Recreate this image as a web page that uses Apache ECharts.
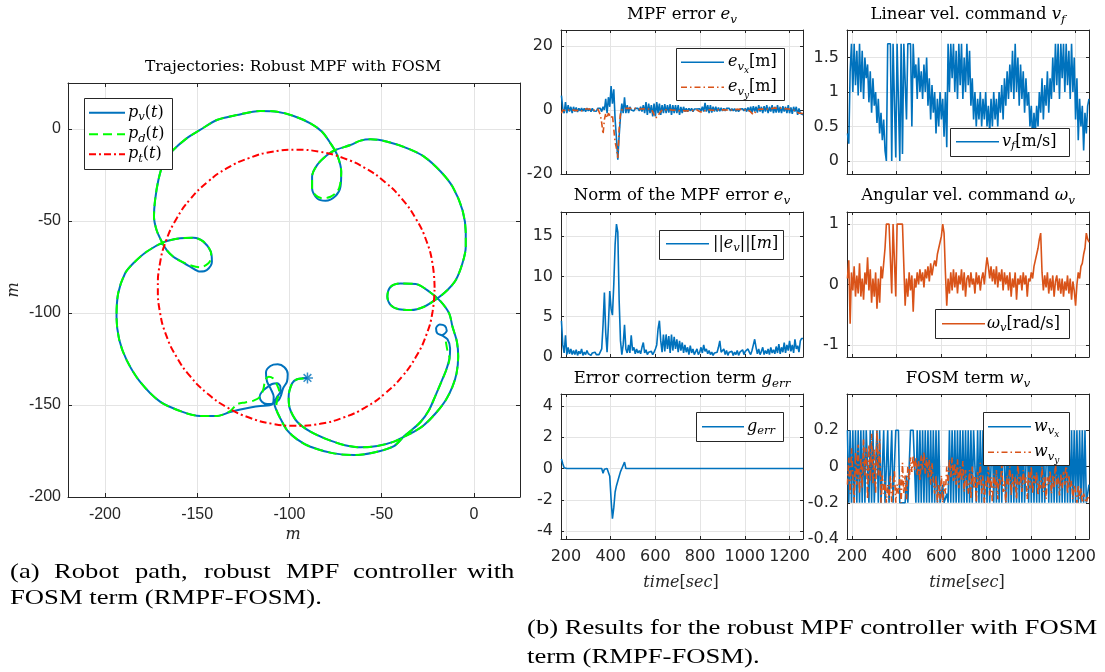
<!DOCTYPE html>
<html>
<head>
<meta charset="utf-8">
<script src="https://cdn.jsdelivr.net/npm/echarts@6/dist/echarts.min.js"></script>
<style>
  html, body { margin: 0; padding: 0; background: #fff; }
  #main { width: 1105px; height: 672px; }
</style>
</head>
<body>
<div id="main"></div>
<script>
// ---------------- Trajectories (metres) ----------------
// robot path p_v(t)
const PV_PATH = [
  [-17.0,-112.0], [-14.7,-109.6], [-15.8,-106.9], [-18.5,-106.2], [-20.5,-108.3], [-19.8,-111.1], [-17.0,-112.3], [-14.3,-114.3],
  [-12.9,-119.2], [-13.2,-124.6], [-15.0,-131.0], [-17.6,-137.3], [-20.7,-144.6], [-24.3,-152.7], [-28.8,-159.1], [-34.2,-164.0], [-37.9,-167.0],
  [-43.3,-172.3], [-54.2,-175.8], [-65.1,-177.2], [-75.9,-176.3], [-88.6,-172.7], [-95.8,-168.7], [-101.3,-163.6], [-104.9,-157.3], [-107.1,-152.7],
  [-108.2,-149.1], [-106.7,-145.5], [-104.9,-142.8], [-104.9,-140.0], [-106.7,-138.2], [-109.4,-138.6], [-112.1,-140.4], [-114.9,-142.8],
  [-116.1,-145.5], [-114.9,-148.2], [-112.1,-149.5], [-108.5,-149.1], [-105.8,-147.3], [-104.5,-144.6], [-103.4,-140.9], [-101.3,-137.3],
  [-100.9,-133.2], [-102.7,-129.5], [-106.3,-127.9], [-110.3,-128.8], [-112.7,-132.4], [-112.1,-137.3], [-110.0,-141.5], [-108.5,-145.5],
  [-108.9,-149.1], [-110.7,-150.2], [-115.8,-150.5], [-121.2,-151.3], [-126.6,-152.4], [-132.1,-153.8],
  [-139.3,-156.0], [-148.4,-156.0], [-158.3,-153.6], [-170.1,-148.2], [-181.0,-137.3], [-188.2,-125.6], [-192.2,-114.7],
  [-193.7,-102.0], [-192.8,-89.3], [-189.1,-78.5], [-184.6,-73.0], [-177.4,-66.7], [-168.3,-61.6], [-159.2,-59.4], [-152.0,-59.1],
  [-146.6,-61.2], [-142.6,-66.7], [-142.0,-72.1], [-144.7,-76.6], [-148.4,-77.5], [-153.8,-74.8], [-159.2,-71.7], [-162.9,-69.4],
  [-166.5,-65.8], [-169.2,-61.2], [-172.0,-54.9], [-173.4,-47.6], [-172.8,-38.6], [-171.0,-27.7], [-168.3,-18.7], [-163.8,-12.3],
  [-155.7,-5.1], [-148.4,-0.5], [-139.3,4.9], [-128.5,7.6], [-115.8,9.8], [-106.7,9.4], [-97.7,7.1], [-88.6,3.1], [-82.3,-1.5],
  [-77.7,-7.8], [-74.1,-14.1], [-71.9,-23.2], [-72.3,-31.3], [-75.0,-36.4], [-80.4,-39.0], [-85.0,-37.7], [-87.7,-32.3], [-87.7,-25.9],
  [-85.0,-19.6], [-79.5,-14.1], [-75.0,-11.4], [-66.9,-8.7], [-61.4,-6.3], [-56.0,-5.6], [-46.9,-6.9], [-36.0,-10.5], [-27.0,-15.0],
  [-17.9,-23.2], [-11.6,-31.3], [-6.2,-44.0], [-4.4,-56.7], [-4.4,-64.0], [-6.2,-73.0], [-9.8,-82.1], [-14.3,-87.5], [-19.7,-92.0],
  [-27.0,-96.6], [-34.2,-98.4], [-40.6,-98.0], [-45.1,-95.7], [-46.9,-91.1], [-45.1,-85.7], [-39.7,-83.9], [-31.5,-84.2], [-23.4,-89.0],
  [-17.9,-93.8], [-13.4,-100.2], [-11.6,-107.4], [-9.2,-115.6], [-8.5,-123.7], [-9.4,-132.8], [-11.6,-140.0], [-15.2,-147.3],
  [-20.7,-154.5], [-27.0,-160.9], [-32.4,-164.5], [-37.9,-167.2], [-43.3,-169.9], [-52.3,-172.3], [-61.4,-173.0], [-70.5,-171.7],
  [-79.5,-168.7], [-88.6,-164.5], [-95.8,-159.1], [-99.8,-151.8], [-100.4,-145.5], [-98.5,-138.2], [-95.8,-136.0], [-90.2,-135.3]
];

// desired path p_d(t)
const PD_PATH = [
  [-15.2,-115.6], [-14.3,-120.6], [-13.2,-124.6], [-15.0,-131.0], [-17.6,-137.3], [-20.7,-144.6], [-24.3,-152.7], [-28.8,-159.1],
  [-34.2,-164.0], [-37.9,-167.0], [-43.3,-172.3], [-54.2,-175.8], [-65.1,-177.2], [-75.9,-176.3], [-88.6,-172.7], [-95.8,-168.7],
  [-101.3,-163.6], [-104.9,-157.3], [-107.1,-151.8], [-106.7,-147.3], [-105.4,-143.3], [-106.7,-139.1], [-108.9,-135.5], [-111.2,-134.6],
  [-113.1,-136.4], [-114.0,-140.9], [-115.8,-145.5], [-119.4,-147.6], [-123.9,-148.6], [-128.4,-149.6], [-132.1,-153.3],
  [-139.3,-156.0], [-148.4,-156.0], [-158.3,-153.6], [-170.1,-148.2], [-181.0,-137.3], [-188.2,-125.6], [-192.2,-114.7],
  [-193.7,-102.0], [-192.8,-89.3], [-189.1,-78.5], [-184.6,-73.0], [-177.4,-66.7], [-168.3,-61.6], [-159.2,-59.4], [-152.0,-59.1],
  [-146.6,-61.2], [-142.6,-66.7], [-142.4,-69.4], [-143.9,-73.0], [-148.4,-75.2], [-152.9,-74.3], [-159.2,-71.7], [-162.9,-69.4],
  [-166.5,-65.8], [-169.2,-61.2], [-172.0,-54.9], [-173.4,-47.6], [-172.8,-38.6], [-171.0,-27.7], [-168.3,-18.7], [-163.8,-12.3],
  [-155.7,-5.1], [-148.4,-0.5], [-139.3,4.9], [-128.5,7.6], [-115.8,9.8], [-106.7,9.4], [-97.7,7.1], [-88.6,3.1], [-82.3,-1.5],
  [-77.7,-7.8], [-74.1,-14.1], [-71.9,-23.2], [-72.6,-30.5], [-74.1,-34.1], [-77.7,-36.8], [-82.3,-37.7], [-85.9,-35.9], [-87.7,-32.3],
  [-87.7,-25.9], [-85.0,-19.6], [-79.5,-14.1], [-75.0,-11.4], [-66.9,-8.7], [-61.4,-6.3], [-56.0,-5.6], [-46.9,-6.9], [-36.0,-10.5],
  [-27.0,-15.0], [-17.9,-23.2], [-11.6,-31.3], [-6.2,-44.0], [-4.4,-56.7], [-4.4,-64.0], [-6.2,-73.0], [-9.8,-82.1], [-14.3,-87.5],
  [-19.7,-92.0], [-27.0,-96.6], [-34.2,-98.4], [-40.6,-98.0], [-45.1,-95.7], [-46.9,-91.1], [-45.1,-85.7], [-39.7,-83.9], [-31.5,-84.2],
  [-23.4,-89.0], [-17.9,-93.8], [-13.4,-100.2], [-11.6,-107.4], [-9.2,-115.6], [-8.5,-123.7], [-9.4,-132.8], [-11.6,-140.0],
  [-15.2,-147.3], [-20.7,-154.5], [-27.0,-160.9], [-32.4,-164.5], [-37.9,-167.2], [-43.3,-169.9], [-52.3,-172.3], [-61.4,-173.0],
  [-70.5,-171.7], [-79.5,-168.7], [-88.6,-164.5], [-95.8,-159.1], [-99.8,-151.8], [-100.4,-145.5], [-98.5,-138.2], [-95.8,-136.0], [-91.0,-135.5]
];

// target path p_t(t)
const PT_PATH = [
  [-21.3,-86.3], [-22.4,-73.3], [-25.8,-60.6], [-31.4,-48.8], [-38.9,-38.1], [-48.1,-28.9], [-58.8,-21.3], [-70.7,-15.8], [-83.3,-12.4],
  [-96.3,-11.3], [-109.3,-12.4], [-121.9,-15.8], [-133.8,-21.3], [-144.5,-28.9], [-153.7,-38.1], [-161.2,-48.8], [-166.8,-60.6], [-170.2,-73.3],
  [-171.3,-86.3], [-170.2,-99.3], [-166.8,-112.0], [-161.2,-123.8], [-153.7,-134.5], [-144.5,-143.7], [-133.8,-151.3], [-121.9,-156.8], [-109.3,-160.2],
  [-96.3,-161.3], [-83.3,-160.2], [-70.7,-156.8], [-58.8,-151.3], [-48.1,-143.7], [-38.9,-134.5], [-31.4,-123.8], [-25.8,-112.0], [-22.4,-99.3],
  [-21.3,-86.3]
];

// ---------------- Time histories, one sample every 6 s from t = 180 s ----------------
const T_START = 180, T_STEP = 6;

const EV_X = [
  4.5, 0.5, -1, 2.5, -1, 1.5, -0.5, 1, -1, 1,
  -0.5, 0.8, -0.6, 0.5, -0.3, 0.6, -0.4, 0.5, -0.5, 0.6,
  -0.3, 0.4, -0.5, 0.5, -0.3, 0.3, -0.4, 0.5, 0, 0.5,
  -0.5, 1, 0, 3.5, -1, 4, 1, 7.5, 2, 6.5,
  -3, -9, -15.5, -8, -2, 2, -1, 4, -1, 1.5,
  -1, 1, 0, 0.5, -0.3, 0.5, 0, 0.5, -0.3, 1,
  -0.5, 1.5, -1, 2.5, -1.5, 2, -1, 1.5, -2, 2,
  -2, 2.5, -1, 2, -1.5, 1.5, -1, 1.8, -1, 1.5,
  -0.8, 1.8, -1.5, 1.5, -1, 1.5, -1, 1.5, -1.5, 1,
  -1, 1, -0.5, 0.5, -0.5, 0.5, -0.3, 0.5, -0.5, 0.3,
  -0.3, 0.3, -0.3, 0.4, -0.4, 1, -0.5, 2.2, -0.5, 1.5,
  -1, 1.5, -0.8, 1, -0.5, 1, -0.5, 0.8, -0.4, 0.7,
  -0.3, 0.5, -0.3, 0.5, 0.2, 0.5, -0.3, 0.4, -0.3, 0.4,
  -0.4, 0.3, -0.5, 0.3, -0.3, 0.4, -0.3, 0.5, -0.5, 0.8,
  -0.5, 1, -0.8, 1.2, -0.5, 1, -0.8, 1.5, -0.5, 1,
  -1, 1.2, -0.5, 1.5, -1, 1, -0.5, 1.5, -1, 1,
  -0.8, 1.5, -0.8, 1, -1, 1.2, -0.5, 1, -1, 1.5,
  -1, 0.8, -1.2, 1, -0.5, 1, -1.5, 0.5, -1, -0.5,
  -1.5
];

const EV_Y = [
  -1, 0, 0.5, -0.3, 0.3, 0, 0.4, -0.2, 0.3, 0,
  0.3, -0.2, 0.4, 0, 0.3, -0.3, 0.2, 0.3, -0.2, 0.3,
  0, 0.3, 0.2, -0.2, 0.3, 0, 0.2, 0.4, 0, -1.5,
  -4, -7.5, -3, -1, -2.5, -1, -0.5, -2.5, -1.5, -6,
  -10, -12, -15, -6, -1, 0, 0.3, 0.5, 0.4, 0.5,
  0.3, 0.5, 0.2, 0.4, 0.3, 0.5, 0.2, 0.3, 0.2, 0.3,
  0.2, 0.4, 0.1, 0.3, 0.2, 0.3, 0, 0.2, -0.5, -1.5,
  -2.5, -3, -2, -1, -0.5, 0, 0.2, 0.1, 0.3, 0,
  0.3, 0.1, 0.2, -0.1, 0.3, 0, 0.2, -0.2, 0.1, -0.3,
  0, -0.2, 0.1, -0.3, 0, -0.2, 0.1, -0.2, 0.1, -0.1,
  -0.2, 0, -0.3, -0.5, -1, -0.8, -0.5, -0.2, 0, 0.1,
  0.1, 0, 0.2, -0.1, 0.2, 0, 0.3, 0.1, 0.2, 0,
  0.2, 0.1, 0.3, 0, 0.2, 0.1, 0.2, 0, 0.2, 0.1,
  0, 0.2, 0.1, 0.2, 0, 0.1, 0.2, 0, 0.2, 0.1,
  -0.2, -0.6, -1.2, -1.5, -1, -0.4, 0, 0.2, 0.4, 0.3,
  0.5, 0.2, 0.4, 0.3, 0.5, 0.2, 0.4, 0.5, 0.3, 0.6,
  0.4, 0.5, 0.3, 0.6, 0.2, 0.5, 0.3, 0.4, 0.2, 0.3,
  0, 0.2, -0.2, 0, -0.3, -0.5, -0.8, -1, -1.2, -1,
  -1.2
];

const EV_NORM = [
  4.5, 1.5, 0.5, 2.7, 0.3, 1.2, 0.4, 1, 0.3, 0.8,
  0.3, 0.9, 0.2, 0.7, 0.4, 1, 0.2, 0.6, 0.3, 0.8,
  0.4, 0.6, 0.2, 0.5, 0.4, 0.6, 0.3, 0.5, 0.3, 0.5,
  1, 4, 8, 3, 0.6, 4, 8.2, 6, 5.2, 9,
  14, 16.5, 15.5, 7, 2, 0.3, 1.5, 4, 1, 0.5,
  1.5, 0.5, 2.7, 0.8, 1.2, 0.4, 1, 0.5, 0.8, 0.4,
  1.2, 1.8, 0.5, 0.9, 0.3, 0.6, 0.4, 0.7, 0.3, 0.6,
  1, 1.5, 3.5, 4.5, 2, 0.6, 2.8, 0.7, 2.8, 1,
  2.6, 0.5, 2.8, 0.8, 2.5, 1, 2.2, 0.6, 2, 0.8,
  1.8, 0.5, 1.5, 0.6, 1.2, 0.3, 1.4, 0.5, 1, 0.3,
  0.4, 1, 0.3, 0.6, 1.2, 0.5, 1.5, 0.7, 1, 0.4,
  0.8, 0.3, 0.6, 0.2, 0.5, 0.3, 0.6, 1.2, 2, 0.6,
  0.4, 1, 0.3, 0.8, 0.2, 0.6, 0.4, 0.7, 0.2, 0.6,
  0.3, 0.8, 0.2, 0.6, 0.4, 0.9, 0.3, 0.7, 0.5, 1,
  0.6, 0.3, 0.8, 1.5, 2.2, 1.2, 0.4, 1, 0.3, 0.7,
  1.2, 0.3, 0.8, 0.4, 1, 0.3, 1.2, 0.5, 0.9, 0.4,
  1.3, 0.5, 1.6, 0.4, 1.2, 0.6, 1.8, 0.5, 1.5, 0.8,
  2, 0.7, 1.5, 0.5, 2.2, 1, 1.4, 0.6, 2, 2.3,
  2.3
];

const G_ERR = [
  0.6, 0.3, 0.05, 0, 0, 0, 0, 0, 0, 0,
  0, 0, 0, 0, 0, 0, 0, 0, 0, 0,
  0, 0, 0, 0, 0, 0, 0, 0, 0, 0,
  0, -0.3, -0.05, 0, 0, 0, -0.5, -2, -3.2, -2.5,
  -1.5, -1.1, -0.8, -0.5, -0.2, 0, 0.1, 0.4, 0, 0,
  0, 0, 0, 0, 0, 0, 0, 0, 0, 0,
  0, 0, 0, 0, 0, 0, 0, 0, 0, 0,
  0, 0, 0, 0, 0, 0, 0, 0, 0, 0,
  0, 0.05, 0, 0.05, 0, 0, 0, 0, 0, 0,
  0, 0, 0, 0, 0, 0, 0, 0, 0, 0,
  0, 0, 0, 0, 0, 0, 0, 0, 0, 0,
  0, 0, 0, 0, 0, 0, 0, 0, 0, 0,
  0, 0, 0, 0, 0, 0, 0, 0, 0, 0,
  0, 0, 0, 0, 0, 0, 0, 0, 0, 0,
  0, 0, 0, 0, 0, 0, 0, 0, 0, 0,
  0, 0, 0, 0, 0, 0, 0, 0, 0, 0,
  0, 0, 0, 0, 0, 0, 0, 0, 0, 0,
  0, 0, 0, 0, 0, 0, 0, 0, 0, 0,
  0
];

const V_F = [
  0.4, 0.25, 1.3, 1.7, 1.0, 1.7, 1.1, 1.6, 0.95, 1.7,
  1.0, 1.6, 0.9, 1.5, 1.2, 1.4, 0.85, 1.3, 0.7, 1.2,
  0.8, 1.0, 0.55, 0.9, 0.4, 0.7, 0.3, 0.6, 0.15, 0,
  1.7, 1.7, 1.7, 0, 1.7, 1.7, 0.05, 1.7, 1.7, 0,
  1.7, 0.1, 1.7, 1.7, 0.6, 1.7, 1.7, 1.7, 0.5, 1.7,
  1.2, 1.4, 0.9, 1.5, 1.0, 1.3, 0.9, 1.4, 1.0, 1.5,
  0.8, 1.2, 0.6, 1.1, 0.7, 1.0, 0.4, 0.9, 0.5, 1.0,
  0.6, 0.9, 0.35, 1.0, 0.2, 1.7, 1.0, 1.7, 1.2, 1.7,
  1.0, 1.6, 0.9, 1.7, 1.1, 1.7, 0.9, 1.5, 1.0, 1.7,
  1.1, 1.6, 0.8, 1.2, 0.6, 1.0, 0.5, 0.9, 0.6, 1.0,
  0.5, 0.9, 0.6, 1.0, 0.5, 0.8, 0.4, 0.9, 0.5, 1.0,
  0.6, 0.9, 0.5, 1.0, 0.7, 1.1, 0.6, 1.2, 0.8, 1.3,
  0.9, 1.4, 1.0, 1.6, 0.9, 1.7, 1.0, 1.5, 0.8, 1.4,
  0.9, 1.3, 0.7, 1.2, 0.8, 1.0, 0.5, 0.8, 0.3, 0.7,
  0.4, 0.8, 0.5, 1.0, 0.7, 1.2, 0.6, 1.1, 0.8, 1.3,
  0.7, 1.2, 0.9, 1.5, 1.0, 1.7, 1.1, 1.7, 0.9, 1.7,
  1.2, 1.7, 1.0, 1.7, 1.1, 1.6, 0.9, 1.7, 1.0, 1.5,
  0.6, 1.2, 0.3, 0.9, 0.5, 0.8, 0.15, 0.7, 0.4, 0.8,
  0.9
];

const OMEGA_V = [
  0.1, 0.4, -0.65, 0.2, -0.1, 0.3, -0.2, 0.15, -0.15, 0.35,
  -0.2, 0.1, -0.25, 0.2, 0, 0.45, -0.1, 0.25, -0.3, 0.1,
  -0.2, 0.2, -0.4, 0.1, -0.3, 0.3, 0.1, 0.35, 0.6, 1,
  1, 1, 1, -0.15, 1, 1, -0.2, 1, 1, 1,
  1, 1, 1, -0.35, 0.1, -0.2, 0.2, -0.1, 0.15, -0.45,
  0.1, -0.05, 0.2, 0, 0.25, 0.05, 0.2, -0.05, 0.25, 0.1,
  0.3, 0.05, 0.35, 0.15, 0.3, 0.4, 0.3, 0.5, 0.6, 0.7,
  0.8, 1, 0.85, 0.2, -0.35, 0.1, -0.15, 0.2, -0.1, 0.25,
  -0.05, 0.2, -0.15, 0.15, 0, 0.25, -0.1, 0.2, -0.2, 0.1,
  0.15, -0.05, 0.2, 0, 0.1, -0.15, 0.2, 0, 0.15, -0.1,
  0.1, 0.2, 0, 0.25, 0.45, 0.3, 0.1, 0.3, 0.05, 0.25,
  0, 0.3, -0.05, 0.2, 0.05, 0.25, -0.1, 0.2, 0, 0.15,
  -0.1, 0.2, -0.2, 0.1, -0.05, 0.2, -0.25, 0.1, 0, 0.15,
  -0.1, 0.2, 0, 0.15, -0.2, 0.1, 0.05, 0.2, 0.1, 0.3,
  0.4, 0.5, 0.6, 0.75, 0.85, 0.2, -0.1, 0.15, -0.05, 0.2,
  -0.15, 0.1, -0.1, 0.15, -0.2, 0.05, 0.15, -0.1, 0.1, -0.15,
  0.1, -0.2, 0.05, -0.1, 0.15, -0.15, 0.1, -0.25, 0.05, -0.1,
  -0.35, 0, 0.2, 0.1, 0.3, 0.35, 0.5, 0.6, 0.85, 0.75,
  0.7
];

const W_VX = [
  0.2, -0.2, 0.2, -0.2, 0.2, -0.2, 0.2, -0.2, 0.2, -0.2,
  0.2, -0.2, 0.2, -0.2, 0.2, 0.2, -0.2, 0.2, -0.2, 0.2,
  -0.2, -0.2, 0.2, -0.2, 0.2, -0.2, -0.2, 0.2, -0.2, -0.2,
  0.2, -0.2, -0.2, 0.2, -0.2, -0.2, 0.2, 0.2, 0.2, -0.2,
  -0.2, -0.2, -0.2, -0.2, -0.05, -0.2, -0.2, 0.2, 0.2, 0.2,
  0.2, -0.2, 0.2, -0.2, 0.2, -0.2, 0.2, -0.2, 0.2, -0.2,
  0.2, -0.2, 0.2, -0.2, 0.2, -0.2, 0.2, -0.2, 0.2, -0.2,
  -0.2, -0.1, -0.2, -0.2, -0.15, -0.2, 0.2, -0.2, 0.2, -0.2,
  0.2, -0.2, 0.2, -0.2, 0.2, -0.2, 0.2, -0.2, 0.2, -0.2,
  0.2, -0.2, 0.2, -0.2, 0.2, 0.2, -0.2, 0.2, -0.2, 0.2,
  -0.2, 0.2, -0.2, 0.2, -0.2, 0.2, -0.2, -0.2, 0.2, -0.2,
  0.2, -0.2, 0.2, -0.2, 0.2, -0.2, 0.2, 0.2, -0.2, 0.2,
  -0.2, 0.2, -0.2, 0.2, -0.2, 0.2, -0.2, 0.2, -0.2, 0.2,
  -0.2, 0.2, -0.2, -0.2, 0.2, -0.2, 0.2, -0.2, 0.2, -0.2,
  0.2, -0.2, 0.2, -0.2, 0.2, -0.2, 0.2, -0.2, -0.2, 0.2,
  -0.2, 0.2, -0.2, 0.2, -0.2, 0.2, -0.2, 0.2, -0.2, 0.2,
  -0.2, 0.2, -0.2, 0.2, -0.2, 0.2, -0.2, 0.2, -0.2, 0.2,
  -0.2, 0.2, -0.2, 0.2, -0.2, 0.2, -0.2, 0.2, -0.2, -0.2,
  -0.1
];

const W_VY = [
  -0.1, 0.05, -0.15, 0.1, -0.05, -0.2, 0.08, -0.1, 0.12, -0.15,
  0.05, -0.12, 0.15, -0.05, 0.1, -0.18, 0.12, -0.08, 0.18, -0.1,
  0.1, -0.15, 0.2, -0.05, 0.15, -0.2, -0.05, -0.15, -0.08, -0.2,
  -0.1, -0.18, -0.05, -0.2, -0.12, -0.02, -0.2, -0.1, -0.15, -0.05,
  -0.2, 0.02, -0.15, -0.05, -0.18, 0, -0.08, 0.05, -0.03, 0.06,
  -0.02, 0.05, -0.05, 0.03, -0.08, 0.06, -0.02, 0.08, -0.04, 0.05,
  -0.06, 0.04, -0.1, 0.02, -0.08, -0.15, -0.05, -0.2, -0.1, -0.18,
  -0.05, -0.2, -0.08, -0.15, 0, -0.1, 0.04, -0.06, 0.05, -0.08,
  0.02, -0.1, 0.04, -0.12, 0, -0.08, 0.03, -0.14, -0.02, -0.1,
  -0.15, -0.02, -0.18, 0, -0.12, -0.05, -0.2, -0.03, -0.1, 0.02,
  -0.15, -0.05, -0.2, -0.08, -0.12, 0, -0.16, -0.06, -0.2, -0.04,
  -0.12, -0.02, -0.18, -0.06, -0.1, 0.02, -0.14, -0.08, -0.2, -0.05,
  -0.1, 0, -0.16, -0.04, -0.12, -0.06, -0.18, 0.02, -0.1, -0.05,
  -0.14, -0.02, -0.1, -0.06, -0.18, -0.03, -0.12, 0, -0.15, -0.05,
  -0.1, -0.03, -0.16, -0.08, -0.12, 0, -0.14, -0.05, -0.18, -0.06,
  -0.1, -0.02, -0.15, -0.05, -0.12, 0.02, -0.1, -0.06, -0.16, -0.04,
  -0.12, -0.03, -0.1, 0.04, -0.15, -0.05, -0.12, -0.08, -0.18, -0.1,
  -0.14, -0.2, -0.1, -0.18, -0.12, -0.2, -0.15, -0.18, -0.2, -0.17,
  -0.18
];

// ---------------- Tick labels ----------------
const TRAJ_X_TICKS = [-200, -150, -100, -50, 0];
const TRAJ_Y_TICKS = [-200, -150, -100, -50, 0];
const TIME_TICKS = [200, 400, 600, 800, 1000, 1200];
const EV_TICKS = [-20, 0, 20];
const NORM_TICKS = [0, 5, 10, 15];
const GERR_TICKS = [-4, -2, 0, 2, 4];
const VF_TICKS = [0, 0.5, 1, 1.5];
const OMEGA_TICKS = [-1, 0, 1];
const FOSM_TICKS = [-0.4, -0.2, 0, 0.2];

// ---------------- Styling ----------------
const AX = '#262626';
const GRIDC = '#e4e4e4';
const BLUE = '#0072BD';
const ORANGE = '#D95319';
const GREEN = '#00FF00';
const RED = '#FF0000';
const SERIF = 'DejaVu Serif';
const DASHDOT = [6, 3, 1.5, 3];

const timed = vals => vals.map((v, i) => [T_START + i * T_STEP, v]);
const labelFmt = list => v => list.some(s => Math.abs(s - v) < 1e-6) ? String(+(+v).toFixed(6)) : '';

// panel layout: [left, top, width, height]
const PANELS = [
  [68, 83, 452, 414],   // 0 trajectories
  [561, 30, 242, 144],  // 1 MPF error
  [847, 30, 242, 144],  // 2 linear vel
  [561, 212, 242, 145], // 3 norm
  [847, 212, 242, 145], // 4 angular vel
  [561, 394, 242, 145], // 5 g_err
  [847, 394, 242, 145]  // 6 FOSM
];

const TIME_RANGE = { min: 178, max: 1260, split: 5, ticks: TIME_TICKS };
const AXES = [
  { x: { min: -220, max: 25, split: 5, ticks: TRAJ_X_TICKS }, y: { min: -200, max: 25, interval: 50, ticks: TRAJ_Y_TICKS }, xl: true, left: true },
  { x: TIME_RANGE, y: { min: -20, max: 25, interval: 20, ticks: EV_TICKS } },
  { x: TIME_RANGE, y: { min: -0.19, max: 1.9, split: 5, ticks: VF_TICKS } },
  { x: TIME_RANGE, y: { min: 0, max: 18, interval: 5, ticks: NORM_TICKS } },
  { x: TIME_RANGE, y: { min: -1.2, max: 1.2, split: 2, ticks: OMEGA_TICKS } },
  { x: TIME_RANGE, y: { min: -4.5, max: 4.75, split: 5, ticks: GERR_TICKS }, xl: true },
  { x: TIME_RANGE, y: { min: -0.4, max: 0.4, interval: 0.2, ticks: FOSM_TICKS }, xl: true }
];

const grids = [], xAxes = [], yAxes = [];
AXES.forEach((a, gi) => {
  const p = PANELS[gi];
  grids.push({ left: p[0], top: p[1], width: p[2], height: p[3], show: false, containLabel: false, outerBoundsMode: 'none' });
  const font = a.left ? 'Liberation Sans' : 'DejaVu Sans';
  const tick = a.left ? 4 : 3;
  const line = { show: true, onZero: false, lineStyle: { color: AX, width: 1 } };
  const mk = (r, pos, main, isX) => {
    const ax = {
      gridIndex: gi, type: 'value', min: r.min, max: r.max, position: pos,
      axisLine: line,
      axisTick: { show: true, inside: true, length: tick, lineStyle: { color: AX, width: 1 } },
      axisLabel: {
        show: main && (isX ? !!a.xl : true), formatter: labelFmt(r.ticks),
        color: AX, fontFamily: font, fontSize: 16, margin: isX ? 10 : (a.left ? 7 : 8)
      },
      splitLine: { show: main, lineStyle: { color: GRIDC, width: 1 } }
    };
    if (r.interval) ax.interval = r.interval; else ax.splitNumber = r.split;
    return ax;
  };
  xAxes.push(mk(a.x, 'bottom', true, true), mk(a.x, 'top', false, true));
  yAxes.push(mk(a.y, 'left', true, false), mk(a.y, 'right', false, false));
});

function line(gi, data, color, width, dash, extra) {
  return Object.assign({
    type: 'line', xAxisIndex: 2 * gi, yAxisIndex: 2 * gi, data,
    symbol: 'none', showSymbol: false, silent: true, animation: false, clip: true,
    emphasis: { disabled: true },
    lineStyle: { color, width, type: dash || 'solid' }
  }, extra || {});
}

const series = [
  line(0, PV_PATH, BLUE, 2, null, { smooth: 0.3 }),
  line(0, PD_PATH, GREEN, 2, [9, 5], { smooth: 0.3 }),
  line(0, PT_PATH, RED, 2, [7, 3, 2, 3], { smooth: 0.5 }),
  {
    type: 'scatter', xAxisIndex: 0, yAxisIndex: 0, silent: true, animation: false,
    data: [PV_PATH[PV_PATH.length - 1]],
    symbol: 'path://M0,-6L0,6M-6,0L6,0M-4.2,-4.2L4.2,4.2M-4.2,4.2L4.2,-4.2',
    symbolSize: 11,
    itemStyle: { color: 'none', borderColor: BLUE, borderWidth: 1.5 }
  },
  line(1, timed(EV_X), BLUE, 1.6),
  line(1, timed(EV_Y), ORANGE, 1.6, DASHDOT),
  line(2, timed(V_F), BLUE, 1.6),
  line(3, timed(EV_NORM), BLUE, 1.6),
  line(4, timed(OMEGA_V), ORANGE, 1.6),
  line(5, timed(G_ERR), BLUE, 1.6),
  line(6, timed(W_VX), BLUE, 1.6),
  line(6, timed(W_VY), ORANGE, 1.6, DASHDOT)
];

// ---------------- Text with italics and subscripts ----------------
const mctx = document.createElement('canvas').getContext('2d');
function textWidth(t, size, italic, family) {
  mctx.font = (italic ? 'italic' : 'normal') + ' normal ' + size + 'px ' + (family || SERIF);
  return mctx.measureText(t).width;
}
// runs: {t, i: italic, s: 0 normal / 1 subscript / 2 second-level subscript}
function mathText(runs, x, y, size, align, color) {
  const parts = runs.map(r => {
    const lvl = r.s || 0;
    const fs = lvl === 2 ? size * 0.56 : lvl === 1 ? size * 0.72 : size;
    const dy = lvl === 2 ? size * 0.5 : lvl === 1 ? size * 0.28 : 0;
    return { r, fs, dy, w: textWidth(r.t, fs, r.i) };
  });
  const total = parts.reduce((a, p) => a + p.w, 0);
  let cx = align === 'center' ? x - total / 2 : x;
  return parts.map(p => {
    const el = {
      type: 'text', x: cx, y: y + p.dy, z: 101, silent: true,
      style: {
        text: p.r.t, fontSize: p.fs, fontFamily: SERIF, fontStyle: p.r.i ? 'italic' : 'normal',
        fill: color || '#000', align: 'left', verticalAlign: 'middle'
      }
    };
    cx += p.w;
    return el;
  });
}

function legendBox(box, x1, x2, tx, items) {
  const els = [{
    type: 'rect', z: 100, silent: true,
    shape: { x: box[0] + 0.5, y: box[1] + 0.5, width: box[2], height: box[3] },
    style: { fill: '#fff', stroke: AX, lineWidth: 1 }
  }];
  items.forEach(it => {
    els.push({
      type: 'line', z: 101, silent: true,
      shape: { x1, y1: it.y, x2, y2: it.y },
      style: { stroke: it.color, lineWidth: it.w || 1.6, lineDash: it.dash || null }
    });
    els.push(...mathText(it.runs, tx, it.y, 16, 'left', '#000'));
  });
  return els;
}

const gfx = [];
// panel titles
gfx.push(...mathText([{ t: 'Trajectories: Robust MPF with FOSM' }], 293, 66.5, 15.5, 'center'));
gfx.push(...mathText([{ t: 'MPF error ' }, { t: 'e', i: 1 }, { t: 'v', i: 1, s: 1 }], 682, 15, 16.5, 'center'));
gfx.push(...mathText([{ t: 'Linear vel. command ' }, { t: 'v', i: 1 }, { t: 'f', i: 1, s: 1 }], 968, 15, 16.5, 'center'));
gfx.push(...mathText([{ t: 'Norm of the MPF error ' }, { t: 'e', i: 1 }, { t: 'v', i: 1, s: 1 }], 682, 196, 16.5, 'center'));
gfx.push(...mathText([{ t: 'Angular vel. command ' }, { t: 'ω', i: 1 }, { t: 'v', i: 1, s: 1 }], 968, 196, 16.5, 'center'));
gfx.push(...mathText([{ t: 'Error correction term ' }, { t: 'g', i: 1 }, { t: 'err', i: 1, s: 1 }], 682, 379, 16.5, 'center'));
gfx.push(...mathText([{ t: 'FOSM term ' }, { t: 'w', i: 1 }, { t: 'v', i: 1, s: 1 }], 968, 379, 16.5, 'center'));

// axis names
gfx.push(...mathText([{ t: 'm', i: 1 }], 293, 535, 16, 'center', AX));
gfx.push({
  type: 'text', x: 14, y: 290, rotation: Math.PI / 2, z: 101, silent: true,
  style: { text: 'm', fontSize: 16, fontFamily: SERIF, fontStyle: 'italic', fill: AX, align: 'center', verticalAlign: 'middle' }
});
const timeRuns = [{ t: 'time', i: 1 }, { t: '[' }, { t: 'sec', i: 1 }, { t: ']' }];
gfx.push(...mathText(timeRuns, 681, 583, 16, 'center', AX));
gfx.push(...mathText(timeRuns, 967, 583, 16, 'center', AX));

// legends
gfx.push(...legendBox([84, 98, 88, 71], 89, 125, 128, [
  { y: 112.7, color: BLUE, w: 2, runs: [{ t: 'p', i: 1 }, { t: 'v', i: 1, s: 1 }, { t: '(' }, { t: 't', i: 1 }, { t: ')' }] },
  { y: 134.3, color: GREEN, w: 2, dash: [9, 5], runs: [{ t: 'p', i: 1 }, { t: 'd', i: 1, s: 1 }, { t: '(' }, { t: 't', i: 1 }, { t: ')' }] },
  { y: 154.3, color: RED, w: 2, dash: [7, 3, 2, 3], runs: [{ t: 'p', i: 1 }, { t: 't', i: 1, s: 1 }, { t: '(' }, { t: 't', i: 1 }, { t: ')' }] }
]));
gfx.push(...legendBox([676, 48, 108, 52], 681, 724, 728, [
  { y: 62.3, color: BLUE, runs: [{ t: 'e', i: 1 }, { t: 'v', i: 1, s: 1 }, { t: 'x', i: 1, s: 2 }, { t: '[m]' }] },
  { y: 87.3, color: ORANGE, dash: DASHDOT, runs: [{ t: 'e', i: 1 }, { t: 'v', i: 1, s: 1 }, { t: 'y', i: 1, s: 2 }, { t: '[m]' }] }
]));
gfx.push(...legendBox([950, 128, 119, 28], 956, 999, 1002, [
  { y: 141.7, color: BLUE, runs: [{ t: 'v', i: 1 }, { t: 'f', i: 1, s: 1 }, { t: '[m/s]' }] }
]));
gfx.push(...legendBox([659, 230, 124, 29], 666, 709, 713, [
  { y: 243.8, color: BLUE, runs: [{ t: '||' }, { t: 'e', i: 1 }, { t: 'v', i: 1, s: 1 }, { t: '||[' }, { t: 'm', i: 1 }, { t: ']' }] }
]));
gfx.push(...legendBox([935, 309, 134, 29], 942, 985, 987, [
  { y: 323.8, color: ORANGE, runs: [{ t: 'ω', i: 1 }, { t: 'v', i: 1, s: 1 }, { t: '[rad/s]' }] }
]));
gfx.push(...legendBox([696, 412, 87, 29], 702, 744, 747, [
  { y: 426.7, color: BLUE, runs: [{ t: 'g', i: 1 }, { t: 'err', i: 1, s: 1 }] }
]));
gfx.push(...legendBox([983, 412, 86, 53], 988, 1031, 1034, [
  { y: 426.7, color: BLUE, runs: [{ t: 'w', i: 1 }, { t: 'v', i: 1, s: 1 }, { t: 'x', i: 1, s: 2 }] },
  { y: 452.3, color: ORANGE, dash: DASHDOT, runs: [{ t: 'w', i: 1 }, { t: 'v', i: 1, s: 1 }, { t: 'y', i: 1, s: 2 }] }
]));

// captions (Times-style, slightly widened)
const CAP = { fontSize: 21.5, fontFamily: 'Liberation Serif', fill: '#000', align: 'left', verticalAlign: 'middle' };
const capText = (t, x, y) => ({ type: 'text', x, y, scaleX: 1.24, z: 101, silent: true, style: Object.assign({ text: t }, CAP) });
[['(a)', 10], ['Robot', 54], ['path,', 135], ['robust', 204], ['MPF', 286], ['controller', 353], ['with', 467]]
  .forEach(w => gfx.push(capText(w[0], w[1], 572)));
gfx.push(capText('FOSM term (RMPF-FOSM).', 10, 598));
gfx.push(capText('(b) Results for the robust MPF controller with FOSM', 527, 628));
gfx.push(capText('term (RMPF-FOSM).', 527, 657));

const chart = echarts.init(document.getElementById('main'), null, { renderer: 'canvas' });
chart.setOption({
  animation: false,
  backgroundColor: '#fff',
  grid: grids,
  xAxis: xAxes,
  yAxis: yAxes,
  series,
  graphic: { elements: gfx }
});
</script>
</body>
</html>
